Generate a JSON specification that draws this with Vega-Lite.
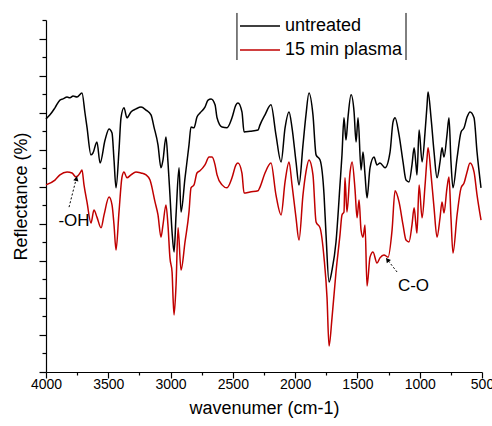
{
  "$schema": "https://vega.github.io/schema/vega-lite/v6.json",
  "width": 436,
  "height": 352,
  "autosize": "none",
  "padding": {"left": 46, "top": 20, "right": 10, "bottom": 54},
  "background": "white",
  "config": {
    "view": {"stroke": null},
    "font": "Liberation Sans",
    "axis": {"domainColor": "black", "tickColor": "black", "labelColor": "black", "titleColor": "black", "grid": false, "labelFont": "Liberation Sans", "titleFont": "Liberation Sans", "titleFontWeight": "normal", "domainWidth": 1.2, "tickWidth": 1.2},
    "legend": {"labelFont": "Liberation Sans"}
  },
  "datasets": {
    "spectra": [
      {"s":"untreated","wn":4000,"v":6.83},{"s":"untreated","wn":3968,"v":6.94},{"s":"untreated","wn":3928,"v":7.13},{"s":"untreated","wn":3888,"v":7.34},{"s":"untreated","wn":3864,"v":7.37},{"s":"untreated","wn":3831,"v":7.42},{"s":"untreated","wn":3807,"v":7.40},{"s":"untreated","wn":3783,"v":7.45},{"s":"untreated","wn":3751,"v":7.42},{"s":"untreated","wn":3711,"v":7.53},{"s":"untreated","wn":3687,"v":6.99},{"s":"untreated","wn":3671,"v":6.61},{"s":"untreated","wn":3639,"v":5.86},{"s":"untreated","wn":3623,"v":5.91},{"s":"untreated","wn":3591,"v":6.21},{"s":"untreated","wn":3566,"v":5.64},{"s":"untreated","wn":3526,"v":6.26},{"s":"untreated","wn":3494,"v":6.56},{"s":"untreated","wn":3470,"v":6.45},{"s":"untreated","wn":3454,"v":5.72},{"s":"untreated","wn":3438,"v":4.97},{"s":"untreated","wn":3414,"v":5.99},{"s":"untreated","wn":3398,"v":6.86},{"s":"untreated","wn":3374,"v":7.13},{"s":"untreated","wn":3350,"v":6.86},{"s":"untreated","wn":3318,"v":7.02},{"s":"untreated","wn":3278,"v":7.10},{"s":"untreated","wn":3237,"v":7.15},{"s":"untreated","wn":3197,"v":7.07},{"s":"untreated","wn":3157,"v":6.94},{"s":"untreated","wn":3133,"v":6.61},{"s":"untreated","wn":3101,"v":6.13},{"s":"untreated","wn":3077,"v":5.51},{"s":"untreated","wn":3061,"v":5.72},{"s":"untreated","wn":3037,"v":6.34},{"s":"untreated","wn":3021,"v":5.67},{"s":"untreated","wn":3005,"v":4.78},{"s":"untreated","wn":2988,"v":3.78},{"s":"untreated","wn":2972,"v":3.24},{"s":"untreated","wn":2956,"v":4.24},{"s":"untreated","wn":2932,"v":5.51},{"s":"untreated","wn":2916,"v":4.32},{"s":"untreated","wn":2884,"v":5.24},{"s":"untreated","wn":2852,"v":6.13},{"s":"untreated","wn":2836,"v":6.61},{"s":"untreated","wn":2812,"v":6.59},{"s":"untreated","wn":2788,"v":6.88},{"s":"untreated","wn":2764,"v":6.99},{"s":"untreated","wn":2724,"v":7.15},{"s":"untreated","wn":2699,"v":7.34},{"s":"untreated","wn":2675,"v":7.37},{"s":"untreated","wn":2643,"v":7.21},{"s":"untreated","wn":2627,"v":6.86},{"s":"untreated","wn":2587,"v":6.61},{"s":"untreated","wn":2547,"v":6.59},{"s":"untreated","wn":2507,"v":6.86},{"s":"untreated","wn":2475,"v":7.21},{"s":"untreated","wn":2459,"v":7.26},{"s":"untreated","wn":2427,"v":7.02},{"s":"untreated","wn":2410,"v":6.48},{"s":"untreated","wn":2362,"v":6.50},{"s":"untreated","wn":2298,"v":6.53},{"s":"untreated","wn":2282,"v":6.67},{"s":"untreated","wn":2242,"v":6.94},{"s":"untreated","wn":2194,"v":7.21},{"s":"untreated","wn":2154,"v":6.40},{"s":"untreated","wn":2113,"v":5.67},{"s":"untreated","wn":2081,"v":6.59},{"s":"untreated","wn":2049,"v":7.02},{"s":"untreated","wn":2025,"v":6.59},{"s":"untreated","wn":1993,"v":5.67},{"s":"untreated","wn":1969,"v":5.05},{"s":"untreated","wn":1937,"v":6.13},{"s":"untreated","wn":1913,"v":6.94},{"s":"untreated","wn":1889,"v":7.53},{"s":"untreated","wn":1857,"v":6.94},{"s":"untreated","wn":1832,"v":5.86},{"s":"untreated","wn":1800,"v":5.72},{"s":"untreated","wn":1768,"v":4.78},{"s":"untreated","wn":1752,"v":3.70},{"s":"untreated","wn":1728,"v":2.43},{"s":"untreated","wn":1704,"v":2.75},{"s":"untreated","wn":1672,"v":3.51},{"s":"untreated","wn":1640,"v":5.05},{"s":"untreated","wn":1624,"v":5.86},{"s":"untreated","wn":1608,"v":6.86},{"s":"untreated","wn":1592,"v":6.26},{"s":"untreated","wn":1576,"v":6.86},{"s":"untreated","wn":1551,"v":7.48},{"s":"untreated","wn":1527,"v":7.02},{"s":"untreated","wn":1511,"v":6.21},{"s":"untreated","wn":1495,"v":6.86},{"s":"untreated","wn":1471,"v":5.45},{"s":"untreated","wn":1455,"v":5.94},{"s":"untreated","wn":1439,"v":5.32},{"s":"untreated","wn":1423,"v":4.70},{"s":"untreated","wn":1399,"v":5.51},{"s":"untreated","wn":1367,"v":5.80},{"s":"untreated","wn":1343,"v":5.59},{"s":"untreated","wn":1319,"v":5.64},{"s":"untreated","wn":1278,"v":5.51},{"s":"untreated","wn":1238,"v":5.94},{"s":"untreated","wn":1214,"v":6.75},{"s":"untreated","wn":1198,"v":6.86},{"s":"untreated","wn":1166,"v":6.40},{"s":"untreated","wn":1134,"v":5.67},{"s":"untreated","wn":1110,"v":5.18},{"s":"untreated","wn":1086,"v":5.13},{"s":"untreated","wn":1062,"v":5.59},{"s":"untreated","wn":1045,"v":6.05},{"s":"untreated","wn":1030,"v":5.59},{"s":"untreated","wn":1022,"v":5.32},{"s":"untreated","wn":1005,"v":6.53},{"s":"untreated","wn":981,"v":5.67},{"s":"untreated","wn":957,"v":6.48},{"s":"untreated","wn":941,"v":7.21},{"s":"untreated","wn":933,"v":7.56},{"s":"untreated","wn":909,"v":6.86},{"s":"untreated","wn":885,"v":5.94},{"s":"untreated","wn":861,"v":5.24},{"s":"untreated","wn":837,"v":5.67},{"s":"untreated","wn":821,"v":6.05},{"s":"untreated","wn":805,"v":5.80},{"s":"untreated","wn":781,"v":6.40},{"s":"untreated","wn":765,"v":6.86},{"s":"untreated","wn":749,"v":5.67},{"s":"untreated","wn":733,"v":4.97},{"s":"untreated","wn":700,"v":5.78},{"s":"untreated","wn":668,"v":6.48},{"s":"untreated","wn":644,"v":6.59},{"s":"untreated","wn":620,"v":6.88},{"s":"untreated","wn":596,"v":7.02},{"s":"untreated","wn":564,"v":6.86},{"s":"untreated","wn":540,"v":5.94},{"s":"untreated","wn":508,"v":4.97},
      {"s":"15 min plasma","wn":4000,"v":5.05},{"s":"15 min plasma","wn":3928,"v":5.18},{"s":"15 min plasma","wn":3888,"v":5.32},{"s":"15 min plasma","wn":3831,"v":5.40},{"s":"15 min plasma","wn":3791,"v":5.37},{"s":"15 min plasma","wn":3759,"v":5.26},{"s":"15 min plasma","wn":3727,"v":5.37},{"s":"15 min plasma","wn":3711,"v":5.45},{"s":"15 min plasma","wn":3695,"v":5.05},{"s":"15 min plasma","wn":3671,"v":4.59},{"s":"15 min plasma","wn":3639,"v":4.02},{"s":"15 min plasma","wn":3615,"v":4.37},{"s":"15 min plasma","wn":3591,"v":4.18},{"s":"15 min plasma","wn":3558,"v":3.89},{"s":"15 min plasma","wn":3534,"v":4.24},{"s":"15 min plasma","wn":3494,"v":4.72},{"s":"15 min plasma","wn":3470,"v":4.51},{"s":"15 min plasma","wn":3454,"v":3.97},{"s":"15 min plasma","wn":3438,"v":3.29},{"s":"15 min plasma","wn":3414,"v":4.32},{"s":"15 min plasma","wn":3390,"v":5.26},{"s":"15 min plasma","wn":3374,"v":5.40},{"s":"15 min plasma","wn":3350,"v":5.24},{"s":"15 min plasma","wn":3318,"v":5.32},{"s":"15 min plasma","wn":3278,"v":5.40},{"s":"15 min plasma","wn":3237,"v":5.37},{"s":"15 min plasma","wn":3197,"v":5.32},{"s":"15 min plasma","wn":3165,"v":5.18},{"s":"15 min plasma","wn":3125,"v":4.59},{"s":"15 min plasma","wn":3101,"v":4.24},{"s":"15 min plasma","wn":3077,"v":3.64},{"s":"15 min plasma","wn":3061,"v":3.97},{"s":"15 min plasma","wn":3037,"v":4.51},{"s":"15 min plasma","wn":3021,"v":3.97},{"s":"15 min plasma","wn":3005,"v":3.08},{"s":"15 min plasma","wn":2988,"v":2.70},{"s":"15 min plasma","wn":2980,"v":2.00},{"s":"15 min plasma","wn":2972,"v":1.54},{"s":"15 min plasma","wn":2956,"v":2.35},{"s":"15 min plasma","wn":2940,"v":3.89},{"s":"15 min plasma","wn":2916,"v":2.75},{"s":"15 min plasma","wn":2884,"v":3.51},{"s":"15 min plasma","wn":2852,"v":4.32},{"s":"15 min plasma","wn":2836,"v":4.97},{"s":"15 min plasma","wn":2812,"v":5.05},{"s":"15 min plasma","wn":2788,"v":5.37},{"s":"15 min plasma","wn":2764,"v":5.43},{"s":"15 min plasma","wn":2724,"v":5.59},{"s":"15 min plasma","wn":2691,"v":5.80},{"s":"15 min plasma","wn":2667,"v":5.80},{"s":"15 min plasma","wn":2643,"v":5.59},{"s":"15 min plasma","wn":2627,"v":5.32},{"s":"15 min plasma","wn":2587,"v":5.05},{"s":"15 min plasma","wn":2547,"v":4.97},{"s":"15 min plasma","wn":2507,"v":5.24},{"s":"15 min plasma","wn":2475,"v":5.59},{"s":"15 min plasma","wn":2459,"v":5.64},{"s":"15 min plasma","wn":2427,"v":5.37},{"s":"15 min plasma","wn":2410,"v":4.83},{"s":"15 min plasma","wn":2362,"v":4.86},{"s":"15 min plasma","wn":2298,"v":4.89},{"s":"15 min plasma","wn":2282,"v":4.99},{"s":"15 min plasma","wn":2242,"v":5.37},{"s":"15 min plasma","wn":2194,"v":5.64},{"s":"15 min plasma","wn":2154,"v":4.78},{"s":"15 min plasma","wn":2113,"v":4.24},{"s":"15 min plasma","wn":2081,"v":5.13},{"s":"15 min plasma","wn":2049,"v":5.67},{"s":"15 min plasma","wn":2025,"v":5.05},{"s":"15 min plasma","wn":1993,"v":4.16},{"s":"15 min plasma","wn":1969,"v":3.56},{"s":"15 min plasma","wn":1937,"v":4.78},{"s":"15 min plasma","wn":1913,"v":5.40},{"s":"15 min plasma","wn":1889,"v":5.72},{"s":"15 min plasma","wn":1857,"v":5.32},{"s":"15 min plasma","wn":1832,"v":4.05},{"s":"15 min plasma","wn":1800,"v":3.89},{"s":"15 min plasma","wn":1768,"v":3.08},{"s":"15 min plasma","wn":1744,"v":2.00},{"s":"15 min plasma","wn":1728,"v":0.70},{"s":"15 min plasma","wn":1704,"v":1.46},{"s":"15 min plasma","wn":1672,"v":2.70},{"s":"15 min plasma","wn":1640,"v":3.70},{"s":"15 min plasma","wn":1624,"v":4.24},{"s":"15 min plasma","wn":1608,"v":4.32},{"s":"15 min plasma","wn":1600,"v":5.24},{"s":"15 min plasma","wn":1584,"v":4.32},{"s":"15 min plasma","wn":1559,"v":5.40},{"s":"15 min plasma","wn":1543,"v":5.67},{"s":"15 min plasma","wn":1519,"v":4.91},{"s":"15 min plasma","wn":1503,"v":4.16},{"s":"15 min plasma","wn":1487,"v":4.64},{"s":"15 min plasma","wn":1471,"v":3.83},{"s":"15 min plasma","wn":1455,"v":3.64},{"s":"15 min plasma","wn":1439,"v":3.97},{"s":"15 min plasma","wn":1423,"v":2.32},{"s":"15 min plasma","wn":1399,"v":3.10},{"s":"15 min plasma","wn":1375,"v":3.24},{"s":"15 min plasma","wn":1343,"v":2.94},{"s":"15 min plasma","wn":1319,"v":3.08},{"s":"15 min plasma","wn":1287,"v":3.16},{"s":"15 min plasma","wn":1254,"v":3.10},{"s":"15 min plasma","wn":1222,"v":3.83},{"s":"15 min plasma","wn":1198,"v":4.89},{"s":"15 min plasma","wn":1166,"v":4.59},{"s":"15 min plasma","wn":1134,"v":3.97},{"s":"15 min plasma","wn":1110,"v":3.56},{"s":"15 min plasma","wn":1086,"v":3.51},{"s":"15 min plasma","wn":1062,"v":3.97},{"s":"15 min plasma","wn":1045,"v":4.43},{"s":"15 min plasma","wn":1030,"v":3.97},{"s":"15 min plasma","wn":1022,"v":3.75},{"s":"15 min plasma","wn":1005,"v":5.05},{"s":"15 min plasma","wn":981,"v":4.16},{"s":"15 min plasma","wn":957,"v":5.05},{"s":"15 min plasma","wn":941,"v":5.78},{"s":"15 min plasma","wn":933,"v":6.05},{"s":"15 min plasma","wn":909,"v":5.32},{"s":"15 min plasma","wn":885,"v":4.43},{"s":"15 min plasma","wn":861,"v":3.64},{"s":"15 min plasma","wn":837,"v":4.16},{"s":"15 min plasma","wn":821,"v":4.59},{"s":"15 min plasma","wn":805,"v":4.29},{"s":"15 min plasma","wn":781,"v":4.97},{"s":"15 min plasma","wn":765,"v":5.26},{"s":"15 min plasma","wn":749,"v":4.16},{"s":"15 min plasma","wn":733,"v":3.21},{"s":"15 min plasma","wn":700,"v":4.24},{"s":"15 min plasma","wn":668,"v":4.97},{"s":"15 min plasma","wn":644,"v":5.10},{"s":"15 min plasma","wn":620,"v":5.40},{"s":"15 min plasma","wn":596,"v":5.64},{"s":"15 min plasma","wn":564,"v":5.40},{"s":"15 min plasma","wn":540,"v":4.78},{"s":"15 min plasma","wn":508,"v":4.10}
    ],
    "arrows": [
      {"id": "OH", "x1": 3815, "y1": 4.45, "x2": 3751, "y2": 5.30, "hx": 3756, "hy": 5.22},
      {"id": "CO", "x1": 1182, "y1": 2.70, "x2": 1266, "y2": 3.06, "hx": 1259, "hy": 3.03}
    ],
    "labels": [
      {"t": "-OH", "x": 3775, "y": 4.08},
      {"t": "C-O", "x": 1050, "y": 2.32}
    ],
    "bars": [
      {"x": 2467, "y1": 9.69, "y2": 8.42},
      {"x": 1110, "y1": 9.69, "y2": 8.42}
    ]
  },
  "layer": [
    {
      "data": {"name": "spectra"},
      "mark": {"type": "line", "strokeWidth": 1.5, "clip": false, "interpolate": "monotone"},
      "encoding": {
        "x": {"field": "wn", "type": "quantitative", "sort": null,
          "scale": {"domain": [500, 4000], "reverse": true, "nice": false, "zero": false},
          "axis": {"values": [4000, 3500, 3000, 2500, 2000, 1500, 1000, 500], "format": "d", "tickSize": 6, "labelFontSize": 14, "labelPadding": -1, "title": "wavenumer (cm-1)", "titleFontSize": 18, "titlePadding": 8, "labelFlush": false, "orient": "bottom"}},
        "y": {"field": "v", "type": "quantitative",
          "scale": {"domain": [0, 9.5], "nice": false, "zero": false},
          "axis": {"values": [0, 1, 2, 3, 4, 5, 6, 7, 8, 9], "labels": false, "tickSize": 7, "title": "Reflectance (%)", "titleFontSize": 18, "titlePadding": 8, "orient": "left"}},
        "color": {"field": "s", "type": "nominal",
          "scale": {"domain": ["untreated", "15 min plasma"], "range": ["#000000", "#c00000"]},
          "legend": {"title": null, "orient": "none", "legendX": 205, "legendY": -3, "symbolType": "M-4,0H4", "symbolSize": 100, "symbolStrokeWidth": 1.5, "symbolFillColor": "transparent", "labelFontSize": 18, "labelOffset": 16, "rowPadding": 6, "padding": 0, "labelColor": "black"}},
        "order": {"field": "wn", "sort": "descending"}
      }
    },
    {
      "data": {"name": "bars"},
      "mark": {"type": "rule", "color": "black", "strokeWidth": 1, "clip": false},
      "encoding": {
        "x": {"field": "x", "type": "quantitative",
          "axis": {"values": [3750, 3250, 2750, 2250, 1750, 1250, 750], "labels": false, "tickSize": 3, "domain": false, "title": null, "orient": "bottom"}},
        "y": {"field": "y1", "type": "quantitative",
          "axis": {"values": [0.5, 1.5, 2.5, 3.5, 4.5, 5.5, 6.5, 7.5, 8.5, 9.5], "labels": false, "tickSize": 4, "domain": false, "title": null, "orient": "left"}},
        "y2": {"field": "y2"}
      }
    },
    {
      "data": {"name": "arrows"},
      "mark": {"type": "rule", "color": "black", "strokeWidth": 1, "strokeDash": [2, 2]},
      "encoding": {
        "x": {"field": "x1", "type": "quantitative", "axis": null},
        "y": {"field": "y1", "type": "quantitative", "axis": null},
        "x2": {"field": "x2"},
        "y2": {"field": "y2"}
      }
    },
    {
      "data": {"name": "arrows"},
      "transform": [{"filter": "datum.id == 'OH'"}],
      "mark": {"type": "point", "shape": "triangle-up", "filled": true, "color": "black", "size": 28, "angle": 14, "opacity": 1},
      "encoding": {
        "x": {"field": "hx", "type": "quantitative", "axis": null},
        "y": {"field": "hy", "type": "quantitative", "axis": null}
      }
    },
    {
      "data": {"name": "arrows"},
      "transform": [{"filter": "datum.id == 'CO'"}],
      "mark": {"type": "point", "shape": "triangle-up", "filled": true, "color": "black", "size": 28, "angle": -38, "opacity": 1},
      "encoding": {
        "x": {"field": "hx", "type": "quantitative", "axis": null},
        "y": {"field": "hy", "type": "quantitative", "axis": null}
      }
    },
    {
      "data": {"name": "labels"},
      "mark": {"type": "text", "fontSize": 17, "font": "Liberation Sans", "color": "black", "align": "center", "baseline": "middle"},
      "encoding": {
        "x": {"field": "x", "type": "quantitative", "axis": null},
        "y": {"field": "y", "type": "quantitative", "axis": null},
        "text": {"field": "t"}
      }
    }
  ],
  "resolve": {"axis": {"x": "independent", "y": "independent"}}
}
